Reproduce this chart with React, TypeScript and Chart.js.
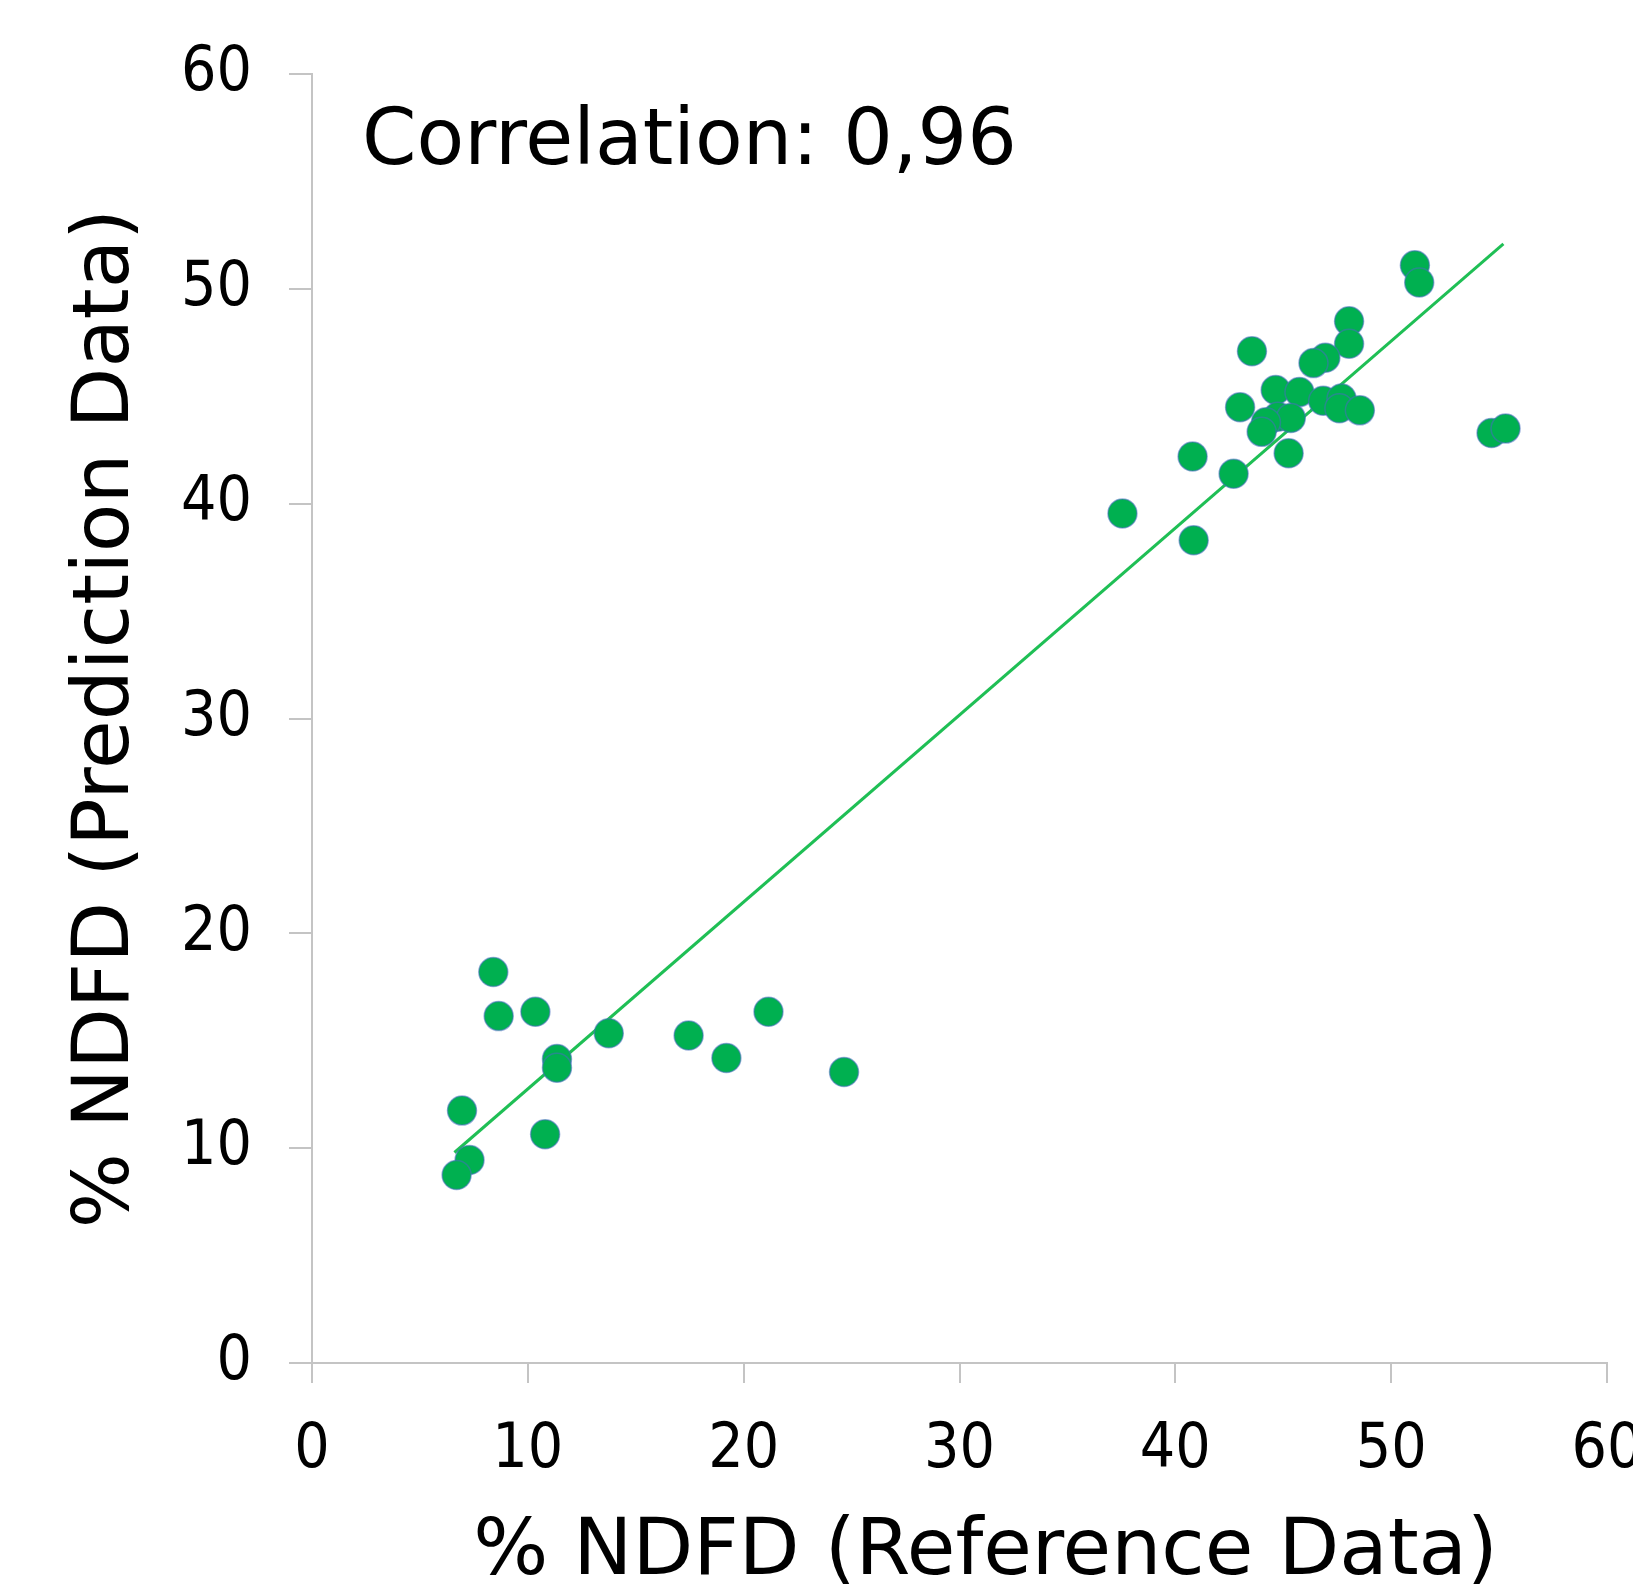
import React, { useEffect, useRef } from "react";
import { Chart, registerables } from "chart.js";

Chart.register(...registerables);

// Reference data (% NDFD, x) and prediction data (% NDFD, y)
const referenceValues: number[] = [
  51.1, 51.3, 48.05, 48.05, 43.55, 46.95, 46.4, 44.65, 45.75, 46.85, 47.7, 47.6, 48.55,
  43.0, 44.75, 45.35, 44.2, 44.0, 45.25, 40.8, 42.7, 37.55, 40.85, 54.65, 55.3,
  8.4, 8.65, 10.35, 13.75, 17.45, 19.2, 21.15, 24.65, 11.35, 11.35, 6.95, 10.8, 7.3, 6.7,
];
const predictionValues: number[] = [
  51.1, 50.3, 48.5, 47.45, 47.1, 46.8, 46.55, 45.3, 45.2, 44.8, 44.9, 44.45, 44.35,
  44.5, 44.05, 44.0, 43.8, 43.35, 42.35, 42.2, 41.4, 39.55, 38.3, 43.3, 43.5,
  18.2, 16.15, 16.35, 15.35, 15.25, 14.2, 16.35, 13.55, 14.15, 13.75, 11.75, 10.65, 9.45, 8.75,
];
// Linear trend line end points
const trendX: number[] = [6.6, 55.2];
const trendY: number[] = [9.8, 52.1];

const correlationText = "Correlation: 0,96";
const xAxisTitle = "% NDFD (Reference Data)";
const yAxisTitle = "% NDFD (Prediction Data)";
const axisMin = 0;
const axisMax = 60;
const axisStep = 10;

const TICK_FONT = '"DejaVu Sans Condensed", "DejaVu Sans", sans-serif';
const FONT = '"DejaVu Sans", sans-serif';
const CANVAS_W = 1680;
const CANVAS_H = 1588;

export default function App() {
  const canvasRef = useRef<HTMLCanvasElement | null>(null);

  useEffect(() => {
    const canvas = canvasRef.current;
    if (!canvas) return;

    const correlationPlugin = {
      id: "correlationLabel",
      afterDraw(chart: any) {
        const { ctx, chartArea } = chart;
        ctx.save();
        ctx.font = `78px ${FONT}`;
        ctx.fillStyle = "#000";
        ctx.textAlign = "left";
        ctx.textBaseline = "alphabetic";
        ctx.fillText(correlationText, chartArea.left + 50, chartArea.top + 90);
        ctx.restore();
      },
    };

    const chart = new Chart(canvas, {
      type: "scatter",
      data: {
        datasets: [
          {
            type: "scatter",
            label: "NDFD",
            data: referenceValues.map((x, i) => ({ x, y: predictionValues[i] })),
            backgroundColor: "#00b050",
            borderColor: "rgba(70,110,190,0.55)",
            borderWidth: 1.5,
            pointRadius: 14.5,
            pointHoverRadius: 14.5,
            order: 1,
          },
          {
            type: "line",
            label: "Trend",
            data: trendX.map((x, i) => ({ x, y: trendY[i] })),
            borderColor: "#1fbf55",
            borderWidth: 3,
            pointRadius: 0,
            fill: false,
            order: 2,
          } as any,
        ],
      },
      options: {
        responsive: false,
        animation: false,
        devicePixelRatio: 1,
        layout: { padding: { top: 72, right: 73, left: 0, bottom: 0 } },
        plugins: {
          legend: { display: false },
          tooltip: { enabled: false },
        },
        scales: {
          x: {
            type: "linear",
            min: axisMin,
            max: axisMax,
            afterFit(scale: any) {
              scale.height = 225;
              if (!scale._titleShifted) {
                const orig = scale.drawTitle;
                scale.drawTitle = function (...args: any[]) {
                  this.ctx.save();
                  this.ctx.translate(26, 0);
                  orig.apply(this, args);
                  this.ctx.restore();
                };
                scale._titleShifted = true;
              }
            },
            ticks: {
              stepSize: axisStep,
              color: "#000",
              font: { family: TICK_FONT, size: 62 },
              padding: 31,
              maxRotation: 0,
            },
            grid: {
              drawOnChartArea: false,
              drawTicks: true,
              tickLength: 20,
              color: "#c4c4c4",
              lineWidth: 2,
            },
            border: { display: true, color: "#c4c4c4", width: 2 },
            title: {
              display: true,
              text: xAxisTitle,
              color: "#000",
              font: { family: FONT, size: 79, lineHeight: 0.88 },
              padding: 0,
            },
          },
          y: {
            type: "linear",
            min: axisMin,
            max: axisMax,
            afterFit(scale: any) {
              scale.width = 312;
            },
            ticks: {
              stepSize: axisStep,
              color: "#000",
              font: { family: TICK_FONT, size: 62 },
              padding: 37,
            },
            grid: {
              drawOnChartArea: false,
              drawTicks: true,
              tickLength: 23,
              color: "#c4c4c4",
              lineWidth: 2,
            },
            border: { display: true, color: "#c4c4c4", width: 2 },
            title: {
              display: true,
              text: yAxisTitle,
              color: "#000",
              font: { family: FONT, size: 79, lineHeight: 1 },
              padding: { top: 68, bottom: 0 },
            },
          },
        },
      },
      plugins: [correlationPlugin],
    });

    return () => chart.destroy();
  }, []);

  return (
    <div
      style={{
        position: "fixed",
        left: 0,
        top: 0,
        width: 1633,
        height: 1588,
        overflow: "hidden",
        background: "#fff",
      }}
    >
      <canvas
        ref={canvasRef}
        width={CANVAS_W}
        height={CANVAS_H}
        style={{ display: "block", width: CANVAS_W, height: CANVAS_H }}
      />
    </div>
  );
}
